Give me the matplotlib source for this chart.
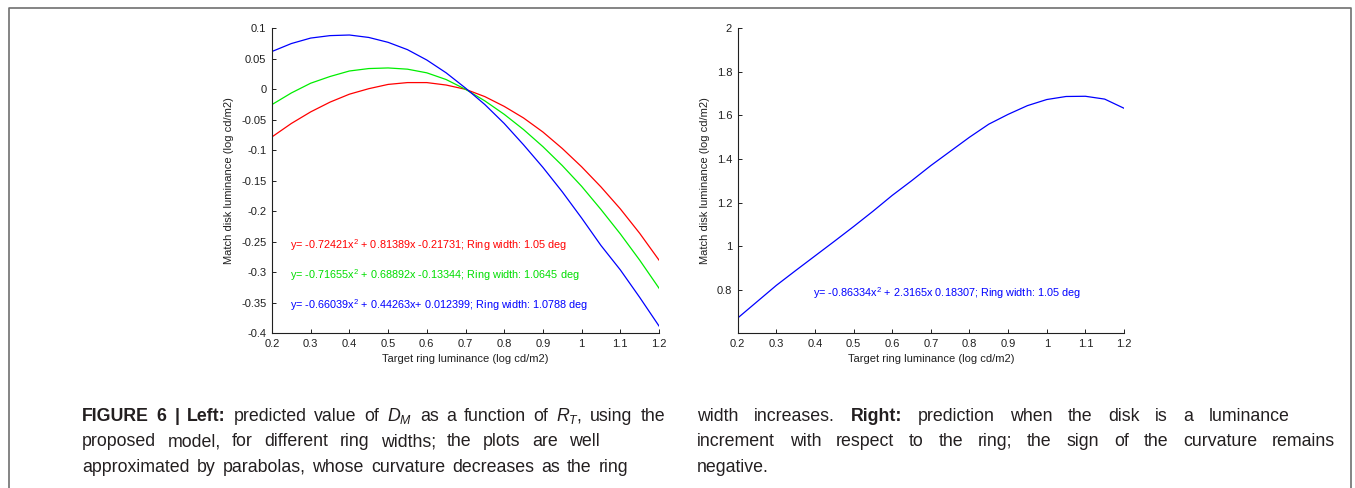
import matplotlib
matplotlib.use("Agg")
import matplotlib.pyplot as plt
from matplotlib.lines import Line2D

# ---------------- data ----------------
x_vals = [0.2, 0.25, 0.3, 0.35, 0.4, 0.45, 0.5, 0.55, 0.6, 0.65, 0.7,
          0.75, 0.8, 0.85, 0.9, 0.95, 1.0, 1.05, 1.1, 1.15, 1.2]
red_vals = [-0.078, -0.056, -0.037, -0.021, -0.008, 0.001, 0.008, 0.011, 0.011, 0.007, 0.000,
            -0.012, -0.028, -0.047, -0.070, -0.097, -0.127, -0.160, -0.196, -0.236, -0.280]
green_vals = [-0.025, -0.006, 0.010, 0.021, 0.030, 0.034, 0.035, 0.033, 0.027, 0.016, 0.000,
              -0.019, -0.041, -0.066, -0.094, -0.125, -0.159, -0.197, -0.237, -0.280, -0.326]
blue_vals = [0.062, 0.075, 0.084, 0.088, 0.089, 0.085, 0.077, 0.065, 0.048, 0.027, 0.002,
             -0.025, -0.056, -0.091, -0.128, -0.168, -0.211, -0.256, -0.296, -0.341, -0.388]
right_vals = [0.67, 0.745, 0.82, 0.888, 0.955, 1.022, 1.09, 1.16, 1.233, 1.30, 1.37,
              1.435, 1.50, 1.56, 1.605, 1.645, 1.673, 1.687, 1.688, 1.675, 1.633]

x_ticks = [0.2, 0.3, 0.4, 0.5, 0.6, 0.7, 0.8, 0.9, 1.0, 1.1, 1.2]
x_ticklabels = ["0.2", "0.3", "0.4", "0.5", "0.6", "0.7", "0.8", "0.9", "1", "1.1", "1.2"]
left_yticks = [0.1, 0.05, 0, -0.05, -0.1, -0.15, -0.2, -0.25, -0.3, -0.35, -0.4]
left_yticklabels = ["0.1", "0.05", "0", "-0.05", "-0.1", "-0.15", "-0.2", "-0.25", "-0.3", "-0.35", "-0.4"]
right_yticks = [0.8, 1.0, 1.2, 1.4, 1.6, 1.8, 2.0]
right_yticklabels = ["0.8", "1", "1.2", "1.4", "1.6", "1.8", "2"]

left_texts = [
    r"y= -0.72421x$^2$ + 0.81389x -0.21731; Ring width: 1.05 deg",
    r"y= -0.71655x$^2$ + 0.68892x -0.13344; Ring width: 1.0645 deg",
    r"y= -0.66039x$^2$ + 0.44263x+ 0.012399; Ring width: 1.0788 deg",
]
right_text = r"y= -0.86334x$^2$ + 2.3165x 0.18307; Ring width: 1.05 deg"
xlabel = "Target ring luminance (log cd/m2)"
ylabel = "Match disk luminance (log cd/m2)"

# ---------------- style ----------------
W, H = 1355, 488
plt.rcParams["font.family"] = ["Liberation Sans", "DejaVu Sans"]
plt.rcParams["mathtext.fontset"] = "custom"
plt.rcParams["mathtext.rm"] = "Liberation Sans"
plt.rcParams["mathtext.it"] = "Liberation Sans:italic"
plt.rcParams["mathtext.bf"] = "Liberation Sans:bold"

fig = plt.figure(figsize=(W / 100, H / 100), dpi=100)
fig.patch.set_facecolor("white")


def px_ax(x0, x1, ytop, ybot):
    return fig.add_axes([x0 / W, 1 - ybot / H, (x1 - x0) / W, (ybot - ytop) / H])


def style_axes(ax):
    for s in ["top", "right"]:
        ax.spines[s].set_visible(False)
    for s in ["left", "bottom"]:
        ax.spines[s].set_color("#202020")
        ax.spines[s].set_linewidth(0.8)
    ax.tick_params(direction="in", length=3, width=0.7, colors="#202020",
                   labelsize=8, pad=4)
    ax.set_xlim(0.2, 1.2)
    ax.set_xticks(x_ticks)
    ax.set_xticklabels(x_ticklabels)
    ax.set_xlabel(xlabel, fontsize=8, labelpad=4, color="#202020")
    ax.set_ylabel(ylabel, fontsize=8, labelpad=5, color="#202020")


# Left panel
axL = px_ax(272, 659, 28.3, 333.3)
axL.plot(x_vals, red_vals, color="#ff0000", lw=0.9)
axL.plot(x_vals, green_vals, color="#00ee00", lw=0.9)
axL.plot(x_vals, blue_vals, color="#0000ff", lw=0.9)
style_axes(axL)
axL.set_ylim(-0.4, 0.1)
axL.set_yticks(left_yticks)
axL.set_yticklabels(left_yticklabels)
for txt, col, yy in zip(left_texts, ["#ff0000", "#00dd00", "#0000ff"], [-0.255, -0.304, -0.354]):
    axL.text(0.246, yy, txt, color=col, fontsize=7.8, va="center", ha="left")

# Right panel
axR = px_ax(737.7, 1124, 28.3, 333.3)
axR.plot(x_vals, right_vals, color="#0000ff", lw=0.9)
style_axes(axR)
axR.set_ylim(0.6, 2.0)
axR.set_yticks(right_yticks)
axR.set_yticklabels(right_yticklabels)
axR.text(0.396, 0.783, right_text, color="#0000ff", fontsize=7.8, va="center", ha="left")

# Border frame (open at bottom)
fig.add_artist(Line2D([8.5 / W, 8.5 / W, 1351 / W, 1351 / W],
                      [0, 1 - 7.5 / H, 1 - 7.5 / H, 0],
                      transform=fig.transFigure, color="#707070", lw=1.2))

# ---------------- caption ----------------
renderer = fig.canvas.get_renderer()
CAP_SIZE = 12.8
REG = dict(family=["Liberation Sans", "DejaVu Sans"], size=CAP_SIZE, color="#231f20")
BOLD = dict(REG, weight="bold")


def place_line(tokens, x0, x1, ybase, justify=True):
    texts = []
    for s, props in tokens:
        t = fig.text(0, 0, s, va="baseline", ha="left", **props)
        texts.append(t)
    widths = [t.get_window_extent(renderer).width for t in texts]
    sp_t = fig.text(0, 0, "a a", **REG)
    sp_t2 = fig.text(0, 0, "aa", **REG)
    space = sp_t.get_window_extent(renderer).width - sp_t2.get_window_extent(renderer).width
    sp_t.remove()
    sp_t2.remove()
    n = len(texts)
    if justify and n > 1:
        gap = (x1 - x0 - sum(widths)) / (n - 1)
        gap = max(gap, 0.6 * space)
    else:
        gap = space
    x = x0
    for t, w in zip(texts, widths):
        t.set_position((x / W, 1 - ybase / H))
        x += w + gap


def words(s, props):
    return [(w, props) for w in s.split()]


col1 = [
    (words("FIGURE 6 | Left:", BOLD) + words("predicted value of", REG) + [(r"$D_M$", REG)]
     + words("as a function of", REG) + [(r"$R_T$,", REG)] + words("using the", REG), 665, True),
    (words("proposed model, for different ring widths; the plots are well", REG), 600, True),
    (words("approximated by parabolas, whose curvature decreases as the ring", REG), 628, True),
]
col2 = [
    (words("width increases.", REG) + words("Right:", BOLD)
     + words("prediction when the disk is a luminance", REG), 1290, True),
    (words("increment with respect to the ring; the sign of the curvature remains", REG), 1335, True),
    (words("negative.", REG), 760, False),
]
baselines = [421, 446.5, 471.5]
for (toks, xe, j), yb in zip(col1, baselines):
    place_line(toks, 82, xe, yb, j)
for (toks, xe, j), yb in zip(col2, baselines):
    place_line(toks, 697, xe, yb, j)

fig.savefig("out.png", dpi=100, facecolor="white")
